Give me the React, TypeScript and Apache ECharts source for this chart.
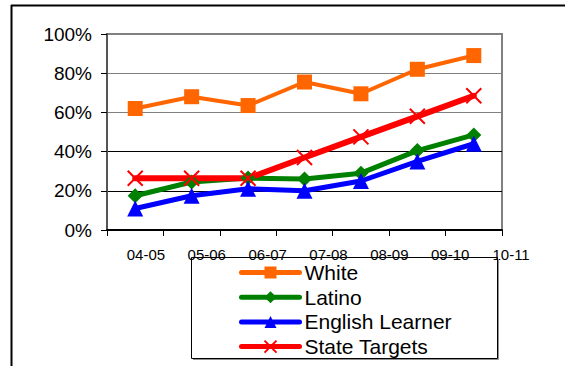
import React, { useEffect, useRef } from "react";
import * as echarts from "echarts";

const categories = ["04-05", "05-06", "06-07", "07-08", "08-09", "09-10", "10-11"];
const white = [62, 68, 63.5, 75.5, 69.5, 82, 89];
const latino = [17.5, 24.5, 26.5, 26, 29, 40.5, 48.5];
const englishLearner = [11, 17.5, 21, 20, 25, 35, 44];
const stateTargets = [26.4, 26.4, 26.4, 37, 47.5, 58, 68.5];
const seriesNames = ["White", "Latino", "English Learner", "State Targets"];
const yTicks = [0, 20, 40, 60, 80, 100];

const FONT = "Arial, 'Liberation Sans', Helvetica, sans-serif";
const X_PATH = "path://M0,0L10,10M10,0L0,10";

export default function App() {
  const ref = useRef<HTMLDivElement>(null);
  useEffect(() => {
    if (!ref.current) return;
    const chart = echarts.init(ref.current, null, { renderer: "svg" });
    const mk = (name: string, data: number[], color: string, symbol: string, size: number | number[], width: number, extra: any = {}) => ({
      name,
      type: "line",
      data,
      xAxisIndex: 0,
      yAxisIndex: 0,
      symbol,
      symbolSize: size,
      showAllSymbol: true,
      lineStyle: { color, width, cap: "round", join: "round" },
      itemStyle: { color, borderColor: color, borderWidth: 0, ...extra },
      z: 3,
    });
    chart.setOption({
      animation: false,
      backgroundColor: "#ffffff",
      grid: [
        { left: 107, top: 34, width: 395, height: 196, show: true, borderColor: "#808080", borderWidth: 2, backgroundColor: "transparent" },
        { left: 115.5, top: 34, width: 426, height: 196 },
      ],
      xAxis: [
        {
          type: "category",
          gridIndex: 0,
          data: categories,
          boundaryGap: true,
          axisLine: { show: true, lineStyle: { color: "#000", width: 2 } },
          axisTick: { show: true, length: 6, lineStyle: { color: "#000", width: 1 } },
          axisLabel: { show: false },
          splitLine: { show: false },
        },
        {
          type: "category",
          gridIndex: 1,
          data: categories,
          axisLine: { show: false },
          axisTick: { show: false },
          axisLabel: { show: true, margin: 18, lineHeight: 13, fontFamily: FONT, fontSize: 15, color: "#000" },
          splitLine: { show: false },
        },
      ],
      yAxis: [
        {
          type: "value",
          gridIndex: 0,
          min: yTicks[0],
          max: yTicks[yTicks.length - 1],
          interval: 20,
          axisLine: { show: true, lineStyle: { color: "#555", width: 2 } },
          axisTick: { show: true, length: 6, lineStyle: { color: "#000", width: 1 } },
          axisLabel: { margin: 15, fontFamily: FONT, fontSize: 19, color: "#000", formatter: (v: number) => v + "%" },
          splitLine: { show: true, lineStyle: { color: ["#000", "#000", "#000", "#808080", "#808080", "#808080"], width: 1 } },
        },
        { type: "value", gridIndex: 1, show: false, min: 0, max: 100 },
      ],
      legend: {
        orient: "vertical",
        left: 239,
        top: 262,
        padding: 0,
        itemWidth: 58,
        itemHeight: 15,
        itemGap: 3.7,
        itemTextGap: 3,
        data: seriesNames,
        lineStyle: { width: 5, cap: "round" },
        textStyle: { fontFamily: FONT, fontSize: 21, color: "#000", lineHeight: 20 },
        z: 10,
      },
      graphic: [
        { type: "line", shape: { x1: 11, y1: 5.5, x2: 565, y2: 5.5 }, style: { stroke: "#000", lineWidth: 2 }, silent: true },
        { type: "line", shape: { x1: 11.5, y1: 5, x2: 11.5, y2: 366 }, style: { stroke: "#000", lineWidth: 2 }, silent: true },
        { type: "polyline", shape: { points: [[498.5, 259], [498.5, 359.5], [193, 359.5]] }, style: { stroke: "#909090", lineWidth: 1, fill: "none" }, z: 1, silent: true },
        { type: "rect", shape: { x: 191.5, y: 257.5, width: 306, height: 101 }, style: { fill: "none", stroke: "#000", lineWidth: 1 }, z: 1, silent: true },
      ],
      series: [
        mk(seriesNames[0], white, "#FF6600", "rect", 15, 4),
        mk(seriesNames[1], latino, "#008000", "diamond", [15, 15], 5),
        mk(seriesNames[2], englishLearner, "#0000FF", "triangle", 16, 5),
        mk(seriesNames[3], stateTargets, "#FF0000", X_PATH, 15, 6, { borderWidth: 2, color: "none" }),
      ],
    });
    return () => chart.dispose();
  }, []);
  return <div ref={ref} style={{ position: "fixed", left: 0, top: 0, width: 565, height: 366 }} />;
}
